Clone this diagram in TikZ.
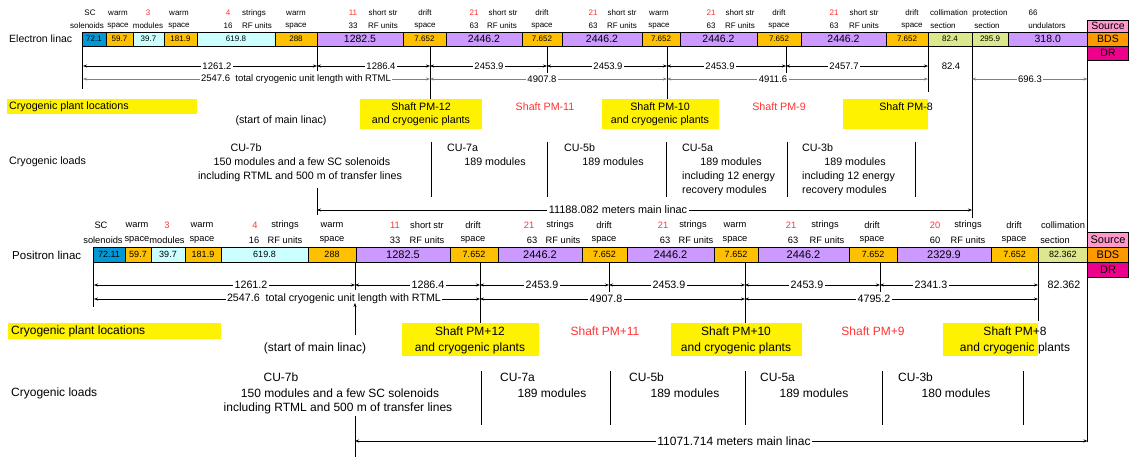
\documentclass[tikz,border=0pt]{standalone}
\usepackage{fontspec}
\setmainfont{Liberation Sans}
\usetikzlibrary{arrows.meta}
\definecolor{cblue}{RGB}{0,153,214}
\definecolor{cgold}{RGB}{255,192,0}
\definecolor{ccyan}{RGB}{204,255,255}
\definecolor{cpurp}{RGB}{204,153,255}
\definecolor{cgreen}{RGB}{221,232,140}
\definecolor{cpink}{RGB}{255,153,204}
\definecolor{corange}{RGB}{255,153,0}
\definecolor{cmag}{RGB}{236,0,140}
\definecolor{cyel}{RGB}{255,242,0}
\definecolor{cred}{RGB}{255,51,51}
\newcommand\bcell[8]{\node[cellbox, fill=#6, minimum width={(#3-#2)*1pt}, minimum height={(#5-#4)*1pt}, anchor=north west, #7] (#1) at (#2,#4) {#8};}
\newcommand\ybox[5]{\node[yelbox, minimum width={(#3-#2)*1pt}, minimum height={(#5-#4)*1pt}, anchor=north west] (#1) at (#2,#4) {};}
\newcommand\dimr[6]{\draw[#1] (#2,#4) -- (#3,#4); \node[dimlab] at (#5,#4) {#6};}
\newcommand\dimp[6]{\draw[#1] (#2,#4) -- (#3,#4); \node[dimlabP] at (#5,#4) {#6};}
\begin{document}
\begin{tikzpicture}[x=1pt,y=-1pt,
  cellbox/.style={draw, line width=0.6pt, inner sep=0pt, outer sep=0pt},
  yelbox/.style={fill=cyel, inner sep=0pt, outer sep=0pt},
  sn/.style={font=\fontsize{8}{9}\selectfont},
  bn/.style={font=\fontsize{10.5}{12}\selectfont},
  snP/.style={font=\fontsize{9}{10}\selectfont},
  bnP/.style={font=\fontsize{11}{12}\selectfont},
  hdr/.style={font=\fontsize{8}{9}\selectfont, inner sep=0pt},
  hdrP/.style={font=\fontsize{9.3}{10}\selectfont, inner sep=0pt},
  rd/.style={text=cred},
  txt/.style={font=\fontsize{10.7}{12}\selectfont, inner sep=0pt},
  txtP/.style={font=\fontsize{12}{14}\selectfont, inner sep=0pt},
  dimlab/.style={fill=white, inner sep=1.5pt, font=\fontsize{9.5}{11}\selectfont},
  dimlabP/.style={fill=white, inner sep=1.5pt, font=\fontsize{10.7}{12}\selectfont},
  tick/.style={line width=1pt},
  sep/.style={line width=1pt},
  da/.style={line width=0.9pt, {Stealth[length=4pt,width=3pt]}-{Stealth[length=4pt,width=3pt]}},
  dg/.style={line width=0.6pt, gray, {Stealth[length=4pt,width=3pt]}-{Stealth[length=4pt,width=3pt]}},
]
\useasboundingbox (0,0) rectangle (1129,457);

% ===================== ELECTRON =====================
\node[anchor=west, font=\fontsize{10.5}{12}\selectfont, inner sep=0pt] (elab) at (9,39) {Electron linac};

% headers
\node[hdr] (eh1a) at (90,13) {SC};        \node[hdr] (eh1b) at (87,26) {solenoids};
\node[hdr] (eh2a) at (118,13) {warm};     \node[hdr] (eh2b) at (118,26) {space};
\node[hdr,rd] (eh3a) at (148,13) {3};     \node[hdr] (eh3b) at (148,26) {modules};
\node[hdr] (eh4a) at (179,13) {warm};     \node[hdr] (eh4b) at (179,26) {space};
\node[hdr,rd] (eh5a) at (228,13) {4};     \node[hdr] (eh5b) at (254,13) {strings};
\node[hdr] (eh5c) at (228,26) {16};       \node[hdr] (eh5d) at (257,26) {RF units};
\node[hdr] (eh6a) at (296,13) {warm};     \node[hdr] (eh6b) at (296,26) {space};
\node[hdr,rd] (eh7a) at (353,13) {11};    \node[hdr] (eh7b) at (383,13) {short str};
\node[hdr] (eh7c) at (353,26) {33};       \node[hdr] (eh7d) at (383,26) {RF units};
\node[hdr] (eh8a) at (425,13) {drift};    \node[hdr] (eh8b) at (425,26) {space};
\node[hdr,rd] (eh9a) at (474,13) {21};    \node[hdr] (eh9b) at (503,13) {short str};
\node[hdr] (eh9c) at (474,26) {63};       \node[hdr] (eh9d) at (502,26) {RF units};
\node[hdr] (eh10a) at (542,13) {drift};   \node[hdr] (eh10b) at (542,26) {space};
\node[hdr,rd] (eh11a) at (593,13) {21};   \node[hdr] (eh11b) at (622,13) {short str};
\node[hdr] (eh11c) at (593,26) {63};      \node[hdr] (eh11d) at (622,26) {RF units};
\node[hdr] (eh12a) at (659,13) {warm};    \node[hdr] (eh12b) at (659,26) {space};
\node[hdr,rd] (eh13a) at (711,13) {21};   \node[hdr] (eh13b) at (740,13) {short str};
\node[hdr] (eh13c) at (711,26) {63};      \node[hdr] (eh13d) at (740,26) {RF units};
\node[hdr] (eh14a) at (779,13) {drift};   \node[hdr] (eh14b) at (779,26) {space};
\node[hdr,rd] (eh15a) at (834,13) {21};   \node[hdr] (eh15b) at (864,13) {short str};
\node[hdr] (eh15c) at (834,26) {63};      \node[hdr] (eh15d) at (864,26) {RF units};
\node[hdr] (eh16a) at (912,13) {drift};   \node[hdr] (eh16b) at (912,26) {space};
\node[hdr] (eh17a) at (949,13) {collimation}; \node[hdr] (eh17b) at (943,26) {section};
\node[hdr] (eh18a) at (990,13) {protection};  \node[hdr] (eh18b) at (987,26) {section};
\node[hdr] (eh19a) at (1033,13) {66};     \node[hdr] (eh19b) at (1047,26) {undulators};

% bar
\bcell{e1}{82}{106}{32}{46}{cblue}{sn}{72.1}
\bcell{e2}{106}{133}{32}{46}{cgold}{sn}{59.7}
\bcell{e3}{133}{164}{32}{46}{ccyan}{sn}{39.7}
\bcell{e4}{164}{197}{32}{46}{cgold}{sn}{181.9}
\bcell{e5}{197}{275}{32}{46}{ccyan}{sn}{619.8}
\bcell{e6}{275}{317}{32}{46}{cgold}{sn}{288}
\bcell{e7}{317}{403}{32}{46}{cpurp}{bn}{1282.5}
\bcell{e8}{403}{446}{32}{46}{cgold}{sn}{7.652}
\bcell{e9}{446}{522}{32}{46}{cpurp}{bn}{2446.2}
\bcell{e10}{522}{562}{32}{46}{cgold}{sn}{7.652}
\bcell{e11}{562}{642}{32}{46}{cpurp}{bn}{2446.2}
\bcell{e12}{642}{680}{32}{46}{cgold}{sn}{7.652}
\bcell{e13}{680}{757}{32}{46}{cpurp}{bn}{2446.2}
\bcell{e14}{757}{801}{32}{46}{cgold}{sn}{7.652}
\bcell{e15}{801}{886}{32}{46}{cpurp}{bn}{2446.2}
\bcell{e16}{886}{928}{32}{46}{cgold}{sn}{7.652}
\bcell{e17}{928}{972}{32}{46}{cgreen}{sn}{82.4}
\bcell{e18}{972}{1008}{32}{46}{cgreen}{sn}{295.9}
\bcell{e19}{1008}{1087.5}{32}{46}{cpurp}{bn}{318.0}
\bcell{eS}{1087.5}{1128.5}{20}{32}{cpink}{bn}{Source}
\bcell{eB}{1087.5}{1128.5}{32}{46}{corange}{bn}{BDS}
\bcell{eD}{1087.5}{1128.5}{46}{60}{cmag}{bn}{DR}

% ticks
\draw[tick] (82,46) -- (82,89);
\draw[tick] (317,46) -- (317,71);
\draw[tick] (430,46) -- (430,99);
\draw[tick] (547,46) -- (547,73);
\draw[tick] (667,46) -- (667,99);
\draw[tick] (786,46) -- (786,73);
\draw[tick] (928,46) -- (928,92);
\draw[tick] (972,46) -- (972,218);
\draw[tick] (1087.5,60) -- (1087.5,232);

% dimensions
\dimr{da}{83}{317}{66}{217}{1261.2}
\dimr{da}{317}{430}{66}{381}{1286.4}
\dimr{da}{430}{547}{66}{489}{2453.9}
\dimr{da}{547}{667}{66}{608}{2453.9}
\dimr{da}{667}{786}{66}{720}{2453.9}
\dimr{da}{786}{928}{66}{844}{2457.7}
\node[dimlab] (e824) at (951,66) {82.4};
\dimr{dg}{83}{430}{79}{296}{2547.6\ \ total cryogenic unit length with RTML}
\dimr{dg}{430}{667}{79}{542}{4907.8}
\dimr{dg}{667}{928}{79}{773}{4911.6}
\dimr{dg}{972}{1087.5}{79}{1030}{696.3}

% plant locations
\ybox{ecpl}{7}{197}{99}{114}
\node[txt, anchor=west] (ecplt) at (9,106.5) {Cryogenic plant locations};
\ybox{epm12}{360}{482}{99}{129}
\node[txt] (epm12a) at (421,107) {Shaft PM-12};
\node[txt] (epm12b) at (421,121) {and cryogenic plants};
\node[txt] (estart) at (281,121) {(start of main linac)};
\node[txt, rd] (epm11) at (545,107) {Shaft PM-11};
\ybox{epm10}{602}{719}{99}{129}
\node[txt] (epm10a) at (660,107) {Shaft PM-10};
\node[txt] (epm10b) at (660,121) {and cryogenic plants};
\node[txt, rd] (epm9) at (779,107) {Shaft PM-9};
\ybox{epm8}{843}{928}{99}{129}
\node[txt] (epm8a) at (906,107) {Shaft PM-8};

% loads
\node[txt, anchor=west] (eload) at (9,162) {Cryogenic loads};
\node[txt] (ecu7b) at (246,148) {CU-7b};
\node[txt] (ecu7b1) at (302,162) {150 modules and a few SC solenoids};
\node[txt] (ecu7b2) at (300,177) {including RTML and 500 m of transfer lines};
\node[txt, anchor=west] (ecu7a) at (447,148) {CU-7a};
\node[txt] (ecu7a1) at (495,162) {189 modules};
\node[txt, anchor=west] (ecu5b) at (564,148) {CU-5b};
\node[txt] (ecu5b1) at (613,162) {189 modules};
\node[txt, anchor=west] (ecu5a) at (682,148) {CU-5a};
\node[txt] (ecu5a1) at (731,162) {189 modules};
\node[txt, anchor=west] (ecu5a2) at (682,177) {including 12 energy};
\node[txt, anchor=west] (ecu5a3) at (682,191) {recovery modules};
\node[txt, anchor=west] (ecu3b) at (802,148) {CU-3b};
\node[txt] (ecu3b1) at (855,162) {189 modules};
\node[txt, anchor=west] (ecu3b2) at (802,177) {including 12 energy};
\node[txt, anchor=west] (ecu3b3) at (802,191) {recovery modules};
\foreach \xx in {431,547,666,787,915} \draw[sep] (\xx,142) -- (\xx,197);

% main linac
\draw[tick] (317,188) -- (317,215);
\draw[line width=0.9pt, {Stealth[length=4pt,width=3pt]}-{Stealth[length=4pt,width=3pt]}] (317,210) -- (972,210);
\node[fill=white, inner sep=1.5pt, font=\fontsize{10.9}{12}\selectfont] (emain) at (618,210) {11188.082 meters main linac};

% ===================== POSITRON =====================
\node[anchor=west, font=\fontsize{11.5}{13}\selectfont, inner sep=0pt] (plab) at (12,255) {Positron linac};

\node[hdrP] (ph1a) at (101,225) {SC};        \node[hdrP] (ph1b) at (103,240) {solenoids};
\node[hdrP] (ph2a) at (137,225) {warm};      \node[hdrP] (ph2b) at (137,240) {space};
\node[hdrP,rd] (ph3a) at (167,225) {3};      \node[hdrP] (ph3b) at (167,240) {modules};
\node[hdrP] (ph4a) at (202,225) {warm};      \node[hdrP] (ph4b) at (202,240) {space};
\node[hdrP,rd] (ph5a) at (255,225) {4};      \node[hdrP] (ph5b) at (285,225) {strings};
\node[hdrP] (ph5c) at (254,240) {16};        \node[hdrP] (ph5d) at (285,240) {RF units};
\node[hdrP] (ph6a) at (332,225) {warm};      \node[hdrP] (ph6b) at (332,240) {space};
\node[hdrP,rd] (ph7a) at (395,225) {11};     \node[hdrP] (ph7b) at (427,225) {short str};
\node[hdrP] (ph7c) at (395,240) {33};        \node[hdrP] (ph7d) at (427,240) {RF units};
\node[hdrP] (ph8a) at (473,225) {drift};     \node[hdrP] (ph8b) at (473,240) {space};
\node[hdrP,rd] (ph9a) at (529,225) {21};     \node[hdrP] (ph9b) at (560,225) {strings};
\node[hdrP] (ph9c) at (532,240) {63};        \node[hdrP] (ph9d) at (563,240) {RF units};
\node[hdrP] (ph10a) at (604,225) {drift};    \node[hdrP] (ph10b) at (604,240) {space};
\node[hdrP,rd] (ph11a) at (663,225) {21};    \node[hdrP] (ph11b) at (693,225) {strings};
\node[hdrP] (ph11c) at (665,240) {63};       \node[hdrP] (ph11d) at (696,240) {RF units};
\node[hdrP] (ph12a) at (735,225) {warm};     \node[hdrP] (ph12b) at (735,240) {space};
\node[hdrP,rd] (ph13a) at (791,225) {21};    \node[hdrP] (ph13b) at (825,225) {strings};
\node[hdrP] (ph13c) at (793,240) {63};       \node[hdrP] (ph13d) at (827,240) {RF units};
\node[hdrP] (ph14a) at (872,225) {drift};    \node[hdrP] (ph14b) at (872,240) {space};
\node[hdrP,rd] (ph15a) at (935,225) {20};    \node[hdrP] (ph15b) at (968,225) {strings};
\node[hdrP] (ph15c) at (935,240) {60};       \node[hdrP] (ph15d) at (968,240) {RF units};
\node[hdrP] (ph16a) at (1014,225) {drift};   \node[hdrP] (ph16b) at (1014,240) {space};
\node[hdrP] (ph17a) at (1063,225) {collimation}; \node[hdrP] (ph17b) at (1055,240) {section};

\bcell{p1}{93}{125}{247}{262}{cblue}{snP}{72.11}
\bcell{p2}{125}{151}{247}{262}{cgold}{snP}{59.7}
\bcell{p3}{151}{185}{247}{262}{ccyan}{snP}{39.7}
\bcell{p4}{185}{221}{247}{262}{cgold}{snP}{181.9}
\bcell{p5}{221}{308}{247}{262}{ccyan}{snP}{619.8}
\bcell{p6}{308}{356}{247}{262}{cgold}{snP}{288}
\bcell{p7}{356}{450}{247}{262}{cpurp}{bnP}{1282.5}
\bcell{p8}{450}{498}{247}{262}{cgold}{snP}{7.652}
\bcell{p9}{498}{582}{247}{262}{cpurp}{bnP}{2446.2}
\bcell{p10}{582}{627}{247}{262}{cgold}{snP}{7.652}
\bcell{p11}{627}{714}{247}{262}{cpurp}{bnP}{2446.2}
\bcell{p12}{714}{758}{247}{262}{cgold}{snP}{7.652}
\bcell{p13}{758}{849}{247}{262}{cpurp}{bnP}{2446.2}
\bcell{p14}{849}{897}{247}{262}{cgold}{snP}{7.652}
\bcell{p15}{897}{991}{247}{262}{cpurp}{bnP}{2329.9}
\bcell{p16}{991}{1038}{247}{262}{cgold}{snP}{7.652}
\bcell{p17}{1038}{1087.5}{247}{262}{cgreen}{snP}{82.362}
\bcell{pS}{1087.5}{1128.5}{232}{247}{cpink}{bnP}{Source}
\bcell{pB}{1087.5}{1128.5}{247}{262}{corange}{bnP}{BDS}
\bcell{pD}{1087.5}{1128.5}{262}{277}{cmag}{bnP}{DR}

\draw[tick] (93,262) -- (93,307);
\draw[tick] (355,262) -- (355,290);
\draw[tick] (480,262) -- (480,323);
\draw[tick] (609,262) -- (609,292);
\draw[tick] (745,262) -- (745,323);
\draw[tick] (880,262) -- (880,292);
\draw[tick] (1038,262) -- (1038,321);
\draw[tick] (1087.5,277) -- (1087.5,442);

\dimp{da}{94}{355}{285}{251}{1261.2}
\dimp{da}{355}{480}{285}{428}{1286.4}
\dimp{da}{480}{609}{285}{542}{2453.9}
\dimp{da}{609}{745}{285}{669}{2453.9}
\dimp{da}{745}{880}{285}{807}{2453.9}
\dimp{da}{880}{1038}{285}{931}{2341.3}
\node[dimlabP] (p82) at (1064,285) {82.362};
\dimp{da}{94}{480}{299}{334}{2547.6\ \ total cryogenic unit length with RTML}
\dimp{da}{480}{745}{299}{606}{4907.8}
\dimp{da}{745}{1038}{299}{874}{4795.2}
\draw[line width=0.9pt, -{Stealth[length=4pt,width=3pt]}] (355,335) -- (355,303);

\ybox{pcpl}{8}{221}{323}{339}
\node[txtP, anchor=west] (pcplt) at (11,331) {Cryogenic plant locations};
\ybox{ppm12}{402}{539}{323}{356}
\node[txtP] (ppm12a) at (470,331) {Shaft PM+12};
\node[txtP] (ppm12b) at (470,348) {and cryogenic plants};
\node[txtP] (pstart) at (315,348) {(start of main linac)};
\node[txtP, rd] (ppm11) at (605,331) {Shaft PM+11};
\ybox{ppm10}{671}{802}{323}{356}
\node[txtP] (ppm10a) at (736,331) {Shaft PM+10};
\node[txtP] (ppm10b) at (736,348) {and cryogenic plants};
\node[txtP, rd] (ppm9) at (873,331) {Shaft PM+9};
\ybox{ppm8}{943}{1038}{323}{356}
\node[txtP] (ppm8a) at (1015,331) {Shaft PM+8};
\node[txtP] (ppm8b) at (1015,348) {and cryogenic plants};

\node[txtP, anchor=west] (pload) at (11,393) {Cryogenic loads};
\node[txtP] (pcu7b) at (281,377) {CU-7b};
\node[txtP] (pcu7b1) at (340,393) {150 modules and a few SC solenoids};
\node[txtP] (pcu7b2) at (338,408) {including RTML and 500 m of transfer lines};
\node[txtP, anchor=west] (pcu7a) at (500,377) {CU-7a};
\node[txtP] (pcu7a1) at (552,393) {189 modules};
\node[txtP, anchor=west] (pcu5b) at (629,377) {CU-5b};
\node[txtP] (pcu5b1) at (685,393) {189 modules};
\node[txtP, anchor=west] (pcu5a) at (760,377) {CU-5a};
\node[txtP] (pcu5a1) at (814,393) {189 modules};
\node[txtP, anchor=west] (pcu3b) at (898,377) {CU-3b};
\node[txtP] (pcu3b1) at (956,393) {180 modules};
\foreach \xx in {481,610,745,882,1023} \draw[sep] (\xx,371) -- (\xx,425);

\draw[tick] (355,416) -- (355,457);
\draw[line width=0.9pt, {Stealth[length=4pt,width=3pt]}-{Stealth[length=4pt,width=3pt]}] (355,441) -- (1087.5,441);
\node[fill=white, inner sep=1.5pt, font=\fontsize{12}{14}\selectfont] (pmain) at (734,441) {11071.714 meters main linac};
\end{tikzpicture}
\end{document}
